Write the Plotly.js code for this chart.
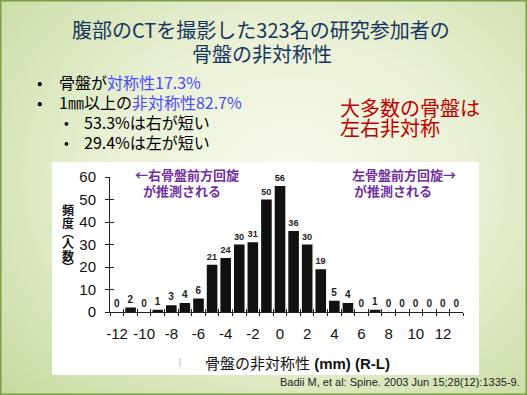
<!DOCTYPE html>
<html><head><meta charset="utf-8">
<script src="https://cdn.plot.ly/plotly-3.0.1.min.js"></script>
<style>
html,body{margin:0;padding:0;}
#chart{width:527px;height:395px;
background:radial-gradient(ellipse 75% 80% at 55% 45%, #f8faec 0%, #eaf1d6 45%, #d3e3b3 80%, #c6da9f 100%);}
</style></head>
<body><div id="chart"></div>
<script>
// ---- data ----
const asymmetryMM = [-12,-11,-10,-9,-8,-7,-6,-5,-4,-3,-2,-1,0,1,2,3,4,5,6,7,8,9,10,11,12,13];
const persons     = [0,2,0,1,3,4,6,21,24,30,31,50,56,36,30,19,5,4,0,1,0,0,0,0,0,0];
const xTickVals   = [-12,-10,-8,-6,-4,-2,0,2,4,6,8,10,12];
const xTickText   = ["-12","-10","-8","-6","-4","-2","0","2","4","6","8","10","12"];
const yTickVals   = [0,10,20,30,40,50,60];
const binEdges    = asymmetryMM.map(v => v - 0.5).concat([13.5]);
const yTitleChars = ["頻","度","︵","人","数","︶"];

const W = 527, H = 395;
const px = x => x / W, py = y => 1 - y / H;
const CJK = "Noto Sans CJK JP, Noto Sans, sans-serif";
const ARIAL = "Liberation Sans, Arial, Noto Sans CJK JP, sans-serif";

const traces = [
  {type:'bar', x:asymmetryMM, y:persons, width:0.78,
   marker:{color:'#111111'},
   text:persons.map(String), textposition:'outside', cliponaxis:false,
   outsidetextfont:{family:ARIAL, size:10, color:'#222', weight:'bold'}, hoverinfo:'skip'},
  {type:'scatter', x:[], y:[], xaxis:'x2', yaxis:'y', showlegend:false},
  {type:'scatter', x:[], y:[], xaxis:'x', yaxis:'y2', showlegend:false}
];

const xr = [-12.5, 13.5], yr = [0, 60];
const annotations = [];
function ann(text, x, y, opts){
  annotations.push(Object.assign({text, x:px(x), y:py(y), xref:'paper', yref:'paper',
    showarrow:false, xanchor:'center', yanchor:'middle'}, opts));
}
// slide title
ann("腹部のCTを撮影した323名の研究参加者の", 261, 30, {font:{family:CJK, size:20, color:'#17365d'}});
ann("骨盤の非対称性", 262, 53, {font:{family:CJK, size:20, color:'#17365d'}});
// bullets
const bf = {family:CJK, size:16, color:'#000'};
ann("•", 39, 82, {font:bf});
ann("骨盤が<span style='color:#4b4bff'>対称性17.3%</span>", 57, 82, {xanchor:'left', font:bf});
ann("•", 39, 102, {font:bf});
ann("1㎜以上の<span style='color:#4b4bff'>非対称性82.7%</span>", 57, 102, {xanchor:'left', font:bf});
ann("•", 66, 122, {font:{family:CJK, size:14, color:'#000'}});
ann("53.3%は右が短い", 82, 122, {xanchor:'left', font:bf});
ann("•", 66, 142, {font:{family:CJK, size:14, color:'#000'}});
ann("29.4%は左が短い", 82, 142, {xanchor:'left', font:bf});
// red statement
ann("大多数の骨盤は", 338, 107, {xanchor:'left', font:{family:CJK, size:20, color:'#c00000'}});
ann("左右非対称", 338, 128, {xanchor:'left', font:{family:CJK, size:20, color:'#c00000'}});
// purple chart notes
const pf = {family:CJK, size:13, color:'#7030a0', weight:'bold'};
ann("<b>←右骨盤前方回旋</b>", 133, 175, {xanchor:'left', font:pf});
ann("<b>が推測される</b>", 141, 190, {xanchor:'left', font:pf});
ann("<b>左骨盤前方回旋→</b>", 350, 175, {xanchor:'left', font:pf});
ann("<b>が推測される</b>", 352, 190, {xanchor:'left', font:pf});
// y title (vertical, one glyph per line)
const yCharY = [210, 222, 232, 243, 255, 266];
yTitleChars.forEach((c,i) => ann("<b>"+c+"</b>", 68, yCharY[i], {font:{family:CJK, size:12, color:'#111'}}));
// x title
ann("骨盤の非対称性 <b>(mm) (R-L)</b>", 297, 363, {font:{family:ARIAL, size:15, color:'#111'}});
// citation
ann("Badii M, et al: Spine. 2003 Jun 15;28(12):1335-9.", 522, 382, {xanchor:'right', font:{family:ARIAL, size:11, color:'#222'}});

const layout = {
  width:W, height:H, margin:{l:0,r:0,t:0,b:0},
  paper_bgcolor:'rgba(0,0,0,0)', plot_bgcolor:'rgba(0,0,0,0)',
  showlegend:false, bargap:0.22,
  xaxis:{domain:[px(110.2), px(463.4)], range:xr, anchor:'y',
    tickvals:xTickVals, ticktext:xTickText, tickangle:0, ticks:'', ticklabelstandoff:8,
    tickfont:{family:ARIAL, size:15, color:'#111'},
    showline:true, linecolor:'#222', linewidth:1.2, showgrid:false, zeroline:false,
    minor:{tickvals:binEdges, ticks:'outside', ticklen:3, tickcolor:'#222', tickwidth:1, showgrid:false}},
  xaxis2:{overlaying:'x', anchor:'y', range:xr, tickvals:binEdges, ticks:'inside', ticklen:3,
    tickcolor:'#222', showticklabels:false, showline:false, showgrid:false, zeroline:false},
  yaxis:{domain:[py(312), py(177)], range:yr, anchor:'x',
    tickvals:yTickVals, ticks:'outside', ticklen:4, tickcolor:'#222', ticklabelstandoff:6,
    tickfont:{family:ARIAL, size:15, color:'#111'},
    showline:true, linecolor:'#222', linewidth:1.2, showgrid:false, zeroline:false},
  yaxis2:{overlaying:'y', anchor:'x', side:'left', range:yr, tickvals:yTickVals, ticks:'inside', ticklen:4,
    tickcolor:'#222', showticklabels:false, showline:false, showgrid:false, zeroline:false},
  shapes:[
    {type:'rect', xref:'paper', yref:'paper', x0:px(52), x1:px(479), y0:py(375), y1:py(162),
     fillcolor:'#ffffff', line:{width:0}, layer:'below'},
    {type:'line', xref:'paper', yref:'paper', x0:px(180), x1:px(180), y0:py(367), y1:py(358),
     line:{color:'#bbbbbb', width:1}, layer:'below'},
    {type:'rect', xref:'paper', yref:'paper', x0:px(0.5), x1:px(526.5), y0:py(394.5), y1:py(0.5),
     line:{color:'#7f9c4a', width:2}, layer:'above'}
  ],
  annotations
};
Plotly.newPlot('chart', traces, layout, {staticPlot:true, displayModeBar:false});
</script></body></html>
